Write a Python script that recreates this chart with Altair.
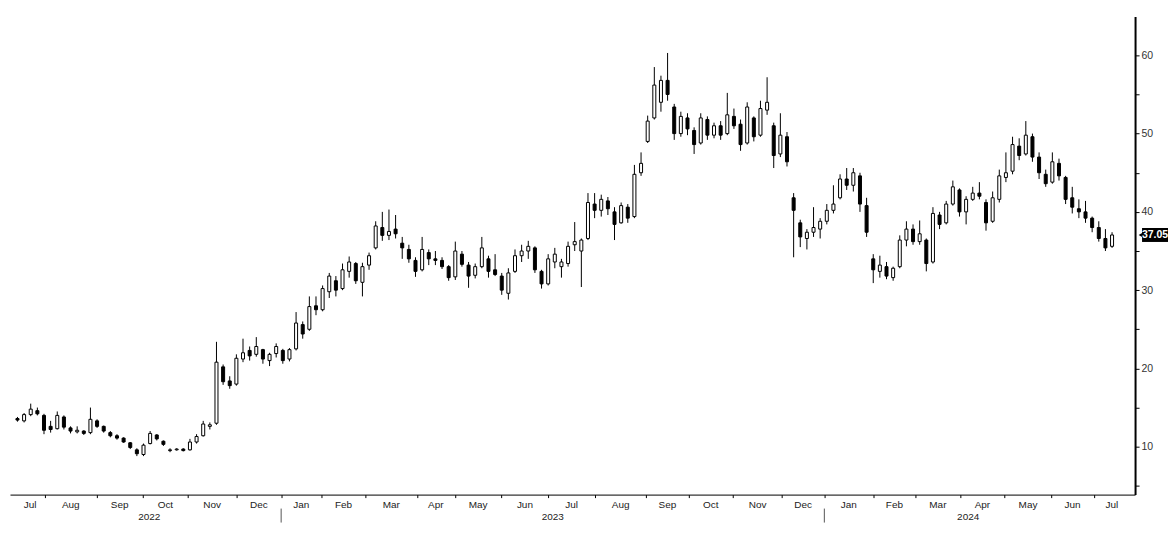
import altair as alt
import pandas as pd
import numpy as np

# ---------------- data ----------------
START = "2022-07-01"
CAL_END = "2024-08-05"
HOLIDAYS = ["2022-07-01", "2022-09-12", "2022-10-04", "2022-12-26", "2022-12-27",
            "2023-01-02", "2023-01-23", "2023-01-24", "2023-01-25", "2023-04-05",
            "2023-04-07", "2023-04-10", "2023-05-01", "2023-05-26", "2023-06-22",
            "2023-09-08", "2023-09-29", "2023-10-02", "2023-10-23", "2023-12-25",
            "2023-12-26", "2024-01-01", "2024-02-12", "2024-02-13", "2024-03-29",
            "2024-04-01", "2024-04-04", "2024-05-01", "2024-05-15", "2024-06-10",
            "2024-07-01"]

OPEN = [13.6, 13.3, 14.1, 14.6, 14.0, 12.6, 12.3, 13.8, 12.4, 11.9,
        12.0, 11.8, 13.3, 12.6, 11.8, 11.4, 11.1, 10.5, 9.6, 9.0,
        10.4, 11.5, 10.7, 9.5, 9.6, 9.7, 9.6, 10.6, 11.4, 12.6,
        13.0, 20.2, 18.4, 18.0, 21.2, 22.3, 21.8, 22.4, 21.0, 21.9,
        22.3, 21.2, 22.5, 25.6, 25.0, 28.0, 27.5, 29.8, 31.2, 30.2,
        32.4, 33.4, 31.0, 33.2, 35.4, 38.0, 37.0, 37.8, 36.0, 35.2,
        33.8, 32.6, 34.8, 34.0, 33.8, 33.0, 31.7, 34.6, 33.2, 31.9,
        33.0, 34.0, 32.6, 31.8, 29.6, 32.4, 34.4, 35.0, 35.4, 32.4,
        30.8, 33.6, 33.0, 33.4, 35.8, 35.0, 36.6, 41.0, 40.2, 41.4,
        40.0, 38.6, 40.6, 39.4, 45.0, 49.0, 52.0, 54.0, 56.8, 53.4,
        50.0, 52.0, 50.4, 48.8, 51.8, 49.8, 51.0, 50.0, 52.2, 51.2,
        48.8, 52.0, 49.8, 53.0, 51.0, 47.4, 49.6, 41.8, 38.6, 36.6,
        37.4, 37.8, 38.8, 40.2, 41.8, 44.2, 43.4, 44.6, 40.8, 34.0,
        32.4, 33.0, 31.6, 33.0, 36.4, 37.8, 36.2, 36.4, 33.6, 39.6,
        38.6, 41.0, 42.8, 40.0, 41.6, 42.4, 41.2, 38.8, 41.6, 44.4,
        45.2, 48.4, 47.4, 49.6, 47.0, 44.8, 43.8, 46.2, 44.4, 41.8,
        40.4, 40.0, 39.2, 38.0, 36.6, 35.6]
HIGH = [13.8, 14.3, 15.5, 15.0, 14.2, 13.3, 14.5, 14.0, 12.6, 12.6,
        12.1, 15.0, 13.5, 12.7, 12.0, 11.6, 11.2, 10.6, 9.8, 10.4,
        12.0, 11.6, 10.8, 9.8, 9.8, 9.8, 11.0, 11.6, 13.3, 13.1,
        23.4, 20.5, 19.0, 21.8, 23.8, 22.8, 24.0, 22.5, 22.0, 23.2,
        22.5, 22.6, 27.2, 26.0, 29.2, 29.2, 30.6, 32.2, 31.8, 33.4,
        34.3, 33.6, 33.5, 34.8, 38.8, 40.0, 40.3, 39.6, 36.8, 35.8,
        34.2, 36.8, 35.2, 35.0, 34.2, 33.2, 36.2, 35.0, 33.6, 33.4,
        36.8, 34.4, 34.6, 32.2, 32.8, 35.2, 35.8, 36.3, 35.6, 32.6,
        34.6, 35.4, 34.0, 36.2, 38.7, 36.6, 42.4, 42.4, 42.2, 41.9,
        40.6, 41.2, 41.0, 46.0, 47.6, 52.3, 58.5, 57.4, 60.3, 53.8,
        52.8, 52.6, 50.8, 52.6, 52.2, 51.4, 51.6, 55.2, 53.2, 51.8,
        54.0, 52.2, 54.2, 57.2, 51.4, 52.6, 50.2, 42.4, 39.0, 37.8,
        40.6, 39.2, 41.0, 43.4, 44.8, 45.6, 45.6, 45.0, 41.8, 34.6,
        34.4, 33.6, 33.0, 37.0, 38.8, 38.4, 38.9, 36.6, 40.6, 40.0,
        41.4, 44.0, 43.0, 42.0, 43.2, 43.8, 41.6, 42.6, 45.4, 47.6,
        49.6, 49.4, 51.6, 50.0, 47.6, 45.4, 47.6, 46.8, 44.6, 43.2,
        41.6, 41.4, 39.4, 38.8, 37.8, 37.4]
LOW = [13.2, 13.1, 13.9, 14.0, 11.6, 11.8, 12.2, 12.2, 11.7, 11.7,
       11.5, 11.6, 12.4, 11.8, 11.2, 10.9, 10.5, 9.7, 8.8, 8.8,
       10.3, 10.8, 10.1, 9.3, 9.5, 9.4, 9.5, 10.4, 11.3, 12.2,
       12.8, 17.9, 17.4, 17.8, 20.8, 21.0, 21.5, 20.6, 20.3, 21.4,
       20.6, 20.9, 22.3, 23.8, 24.8, 26.8, 27.3, 29.0, 29.2, 30.0,
       31.6, 30.8, 29.2, 32.6, 35.2, 36.3, 36.4, 36.6, 34.0, 33.5,
       31.7, 32.4, 33.2, 33.2, 32.7, 31.2, 31.3, 33.0, 30.3, 31.5,
       32.8, 31.6, 31.8, 29.4, 28.8, 32.2, 33.6, 34.0, 32.2, 30.2,
       30.6, 32.8, 31.6, 33.0, 35.0, 30.4, 36.4, 39.2, 39.4, 39.6,
       36.4, 38.5, 38.6, 39.2, 44.6, 48.8, 51.8, 52.8, 54.2, 49.2,
       49.6, 49.8, 47.4, 48.6, 49.2, 49.4, 49.2, 49.8, 50.6, 47.8,
       48.6, 49.0, 49.6, 52.4, 45.6, 47.0, 45.8, 34.2, 35.5, 35.2,
       36.8, 36.6, 38.4, 39.8, 41.6, 42.8, 42.6, 40.0, 36.8, 30.9,
       31.6, 31.4, 31.2, 32.8, 35.6, 35.8, 35.8, 32.4, 33.4, 37.8,
       38.4, 40.8, 39.4, 38.4, 41.4, 41.6, 37.6, 38.6, 41.2, 43.8,
       44.8, 46.6, 47.2, 46.4, 44.2, 43.2, 43.6, 44.0, 41.0, 39.8,
       39.2, 38.6, 37.4, 36.2, 35.0, 35.4]
CLOSE = [13.4, 14.1, 14.8, 14.2, 12.1, 12.2, 14.0, 12.5, 12.0, 12.1,
         11.7, 13.5, 12.6, 12.0, 11.4, 11.1, 10.6, 9.9, 9.1, 10.2,
         11.7, 11.0, 10.3, 9.6, 9.7, 9.5, 10.6, 11.3, 12.9, 12.8,
         20.8, 18.3, 17.8, 21.3, 22.0, 21.6, 22.8, 21.2, 21.8, 22.8,
         21.0, 22.4, 25.8, 24.4, 27.9, 27.5, 30.2, 31.8, 30.0, 32.6,
         33.6, 31.2, 33.0, 34.4, 38.2, 37.0, 37.5, 37.2, 35.4, 34.0,
         32.4, 35.2, 34.0, 33.8, 33.0, 31.6, 35.0, 33.3, 31.8, 33.0,
         35.4, 32.4, 32.0, 30.0, 32.2, 34.4, 35.0, 35.6, 32.6, 30.8,
         34.0, 34.6, 33.6, 35.6, 36.2, 36.4, 41.2, 40.2, 41.6, 40.4,
         38.4, 40.8, 39.2, 44.8, 46.2, 51.6, 56.2, 56.8, 55.0, 50.0,
         52.2, 50.6, 48.6, 52.0, 49.8, 51.0, 49.8, 52.4, 51.0, 48.6,
         53.4, 49.6, 53.2, 54.0, 47.2, 49.8, 46.4, 40.2, 36.8, 37.4,
         38.0, 38.8, 40.2, 41.0, 44.2, 43.4, 45.0, 41.0, 37.4, 32.6,
         33.2, 31.8, 32.8, 36.4, 37.8, 36.2, 37.2, 33.4, 39.8, 38.4,
         41.0, 43.2, 40.0, 41.6, 42.4, 42.0, 38.6, 41.8, 44.6, 45.0,
         48.6, 47.2, 49.8, 47.0, 45.0, 43.6, 46.4, 44.6, 41.6, 40.6,
         40.0, 39.2, 38.0, 36.6, 35.4, 37.05]
LAST_PRICE = 37.05
MONTH_NAMES = ["Jan", "Feb", "Mar", "Apr", "May", "Jun",
               "Jul", "Aug", "Sep", "Oct", "Nov", "Dec"]
Y_TICKS = [5, 10, 15, 20, 25, 30, 35, 40, 45, 50, 55, 60]
Y_DOMAIN = [3.88, 64.97]

# ---------------- layout (plot-relative pixels) ----------------
W, H = 1127, 479
PX_JAN23, PX_JAN24 = 269.0, 818.0      # year boundaries
PX_FIRST, PX_LAST = 2.5, 1108.8        # first / last candle

# ---------------- trading calendar (HK trading days) ----------------
cal = pd.bdate_range(START, CAL_END)
cal = cal[~cal.isin(pd.to_datetime(HOLIDAYS))]
bound = {}
for i in range(1, len(cal)):
    if cal[i].month != cal[i - 1].month:
        bound[(cal[i].year, cal[i].month)] = i - 0.5
b1, b2 = bound[(2023, 1)], bound[(2024, 1)]
s = (PX_JAN24 - PX_JAN23) / (b2 - b1)
x_min = b1 - PX_JAN23 / s
x_max = x_min + W / s
D0, D1 = x_min + PX_FIRST / s, x_min + PX_LAST / s

K = len(CLOSE)
candles = pd.DataFrame({
    "x": D0 + np.arange(K) * (D1 - D0) / (K - 1),
    "open": OPEN, "high": HIGH, "low": LOW, "close": CLOSE,
})
candles["dir"] = np.where(candles["close"] >= candles["open"], "up", "down")

keys = sorted(bound.keys())
tick_vals = [bound[k] for k in keys if x_min < bound[k] < x_max]
mrows = []
prev = x_min
prev_month = 7
for k in keys:
    b = bound[k]
    if b <= x_min:
        prev, prev_month = x_min, k[1]
        continue
    s0, e0 = max(prev, x_min), min(b, x_max)
    if s0 < e0:
        mrows.append({"mid": (s0 + e0) / 2, "label": MONTH_NAMES[prev_month - 1]})
    prev, prev_month = b, k[1]
    if b >= x_max:
        break
months_df = pd.DataFrame(mrows)

years_df = pd.DataFrame({
    "mid": [(D0 + b1) / 2, (b1 + b2) / 2, (b2 + D1) / 2],
    "label": ["2022", "2023", "2024"],
})
seps_df = pd.DataFrame({"b": [b1, b2]})
lp_df = pd.DataFrame({"price": [LAST_PRICE], "label": [f"{LAST_PRICE:.2f}"]})

# ---------------- chart ----------------
FONT = "Liberation Sans"
xscale = alt.Scale(domain=[float(x_min), float(x_max)], nice=False, zero=False)
yscale = alt.Scale(domain=Y_DOMAIN, nice=False, zero=False)

xaxis = alt.Axis(values=[float(v) for v in tick_vals], labels=False, ticks=True, tickSize=3,
                 tickColor="black", domainColor="black", domainWidth=1,
                 grid=False, title=None, orient="bottom")
yaxis = alt.Axis(orient="right", values=Y_TICKS,
                 labelExpr="datum.value % 10 === 0 ? datum.label : ''",
                 tickSize=4, tickColor="black", domainColor="black", domainWidth=2,
                 labelFontSize=10.5, labelColor="#333333", labelFont=FONT,
                 labelPadding=2, grid=False, title=None)

wick = alt.Chart(candles).mark_rule(color="black", strokeWidth=1).encode(
    x=alt.X("x:Q", scale=xscale, axis=xaxis),
    y=alt.Y("low:Q", scale=yscale, axis=yaxis),
    y2="high:Q",
)
body = alt.Chart(candles).mark_bar(width=3, stroke="black", strokeWidth=1).encode(
    x=alt.X("x:Q", scale=xscale),
    y=alt.Y("open:Q", scale=yscale),
    y2="close:Q",
    fill=alt.Fill("dir:N", scale=alt.Scale(domain=["up", "down"], range=["white", "black"]),
                  legend=None),
)
mlabels = alt.Chart(months_df).mark_text(fontSize=10, color="#222222", font=FONT,
                                         baseline="middle", align="center").encode(
    x=alt.X("mid:Q", scale=xscale), y=alt.value(H + 10), text="label:N")
ylabels = alt.Chart(years_df).mark_text(fontSize=10, color="#222222", font=FONT,
                                        baseline="middle", align="center").encode(
    x=alt.X("mid:Q", scale=xscale), y=alt.value(H + 22), text="label:N")
seps = alt.Chart(seps_df).mark_rule(color="#555555", strokeWidth=1).encode(
    x=alt.X("b:Q", scale=xscale), y=alt.value(H + 14), y2=alt.value(H + 28))

box = alt.Chart(lp_df).mark_tick(orient="horizontal", thickness=14, size=26,
                                 color="black", opacity=1).encode(
    x=alt.value(W + 20), y=alt.Y("price:Q", scale=yscale))
arrow = alt.Chart(lp_df).mark_point(shape="triangle-left", filled=True, size=80,
                                    color="black", opacity=1).encode(
    x=alt.value(W + 7.5), y=alt.Y("price:Q", scale=yscale))
lptext = alt.Chart(lp_df).mark_text(color="white", fontSize=10.5, fontWeight="bold",
                                    font=FONT, baseline="middle", align="center").encode(
    x=alt.value(W + 20), y=alt.Y("price:Q", scale=yscale), text="label:N")

chart = alt.layer(wick, body, mlabels, ylabels, seps, box, arrow, lptext).properties(
    width=W, height=H,
    autosize=alt.AutoSizeParams(type="none"),
    padding={"left": 2, "top": 8, "right": 33, "bottom": 28},
    background="white",
).configure_view(strokeWidth=0)

chart.save("out.html", embed_options={"renderer": "svg", "actions": False})
